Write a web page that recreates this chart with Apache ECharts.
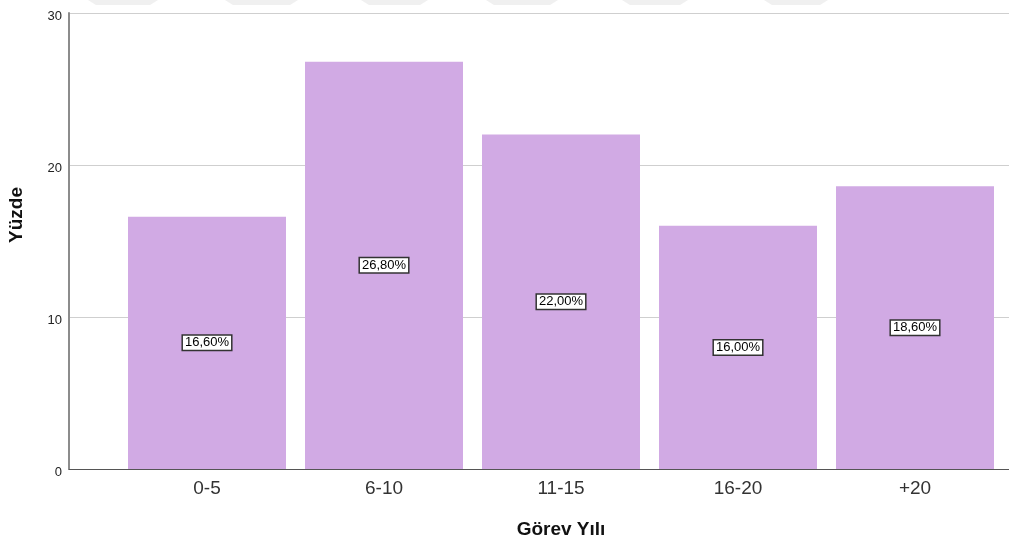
<!DOCTYPE html>
<html>
<head>
<meta charset="utf-8">
<script src="https://cdn.jsdelivr.net/npm/echarts@6/dist/echarts.min.js"></script>
<style>
  html, body { margin: 0; padding: 0; background: #fff; }
  #chart { width: 1009px; height: 545px; }
</style>
</head>
<body>
<div id="chart"></div>
<script>
// Görev yılı dağılımı (yüzde)
const categories = ['0-5', '6-10', '11-15', '16-20', '+20'];
const percents = [16.6, 26.8, 22.0, 16.0, 18.6];
const yTicks = [0, 10, 20, 30];

const FONT = '"Liberation Sans", Arial, sans-serif';
const chart = echarts.init(document.getElementById('chart'), null, { renderer: 'canvas' });

// faint page-header band along the top edge
const bandSpans = [[96, 150], [233, 290], [369, 420], [494, 550], [630, 680], [772, 820]];
const bands = bandSpans.map(([a, b]) => ({
  type: 'polygon',
  silent: true,
  z: -10,
  shape: { points: [[a - 8, 0], [b + 8, 0], [b, 5], [a, 5]] },
  style: { fill: '#f0f0f0' }
}));

// vertical axis title
const yTitle = {
  type: 'text',
  x: 17, y: 215,
  rotation: Math.PI / 2,
  style: {
    text: 'Yüzde',
    fill: '#111',
    font: 'bold 19px "Liberation Sans", Arial, sans-serif',
    align: 'center',
    verticalAlign: 'middle'
  }
};

chart.setOption({
  backgroundColor: '#ffffff',
  animation: false,
  graphic: bands.concat([yTitle]),
  grid: [
    // frame: y axis, gridlines and baseline
    { left: 69, right: 0, top: 13, bottom: 76 },
    // bars and category labels
    { left: 118.5, right: 5.5, top: 13, bottom: 76 }
  ],
  xAxis: [
    {
      gridIndex: 0, type: 'value', min: 0, max: 1,
      axisLine: { show: true, lineStyle: { color: '#555', width: 1 } },
      axisTick: { show: false }, axisLabel: { show: false }, splitLine: { show: false }
    },
    {
      gridIndex: 1, type: 'category', data: categories,
      axisLine: { show: false }, axisTick: { show: false },
      axisLabel: { color: '#333', fontFamily: FONT, fontSize: 19, margin: 10 },
      name: 'Görev Yılı', nameLocation: 'middle', nameGap: 51,
      nameTextStyle: { color: '#111', fontFamily: FONT, fontSize: 19, fontWeight: 'bold' }
    }
  ],
  yAxis: [
    {
      gridIndex: 0, type: 'value', min: yTicks[0], max: yTicks[yTicks.length - 1], interval: 10,
      axisLine: { show: true, lineStyle: { color: '#8c8c8c', width: 2 } },
      axisTick: { show: false },
      axisLabel: {
        color: '#222', fontFamily: FONT, fontSize: 13, margin: 7,
        verticalAlign: 'top', lineHeight: 6,
        formatter: v => yTicks.includes(v) ? String(v) : ''
      },
      splitLine: { show: true, lineStyle: { color: '#cfcfcf', width: 1 } }
    },
    {
      gridIndex: 1, type: 'value', min: 0, max: 30, interval: 10,
      axisLine: { show: false }, axisTick: { show: false },
      axisLabel: { show: false }, splitLine: { show: false }
    }
  ],
  series: [
    {
      type: 'bar',
      xAxisIndex: 1, yAxisIndex: 1,
      data: percents,
      barWidth: 158,
      itemStyle: { color: '#d1aae4' },
      label: {
        show: true, position: 'inside',
        formatter: p => p.value.toFixed(2).replace('.', ',') + '%',
        color: '#000', fontFamily: FONT, fontSize: 13, lineHeight: 13,
        backgroundColor: '#fff', borderColor: '#333', borderWidth: 1.5,
        padding: [1, 2, 0, 2]
      }
    }
  ]
});
</script>
</body>
</html>
